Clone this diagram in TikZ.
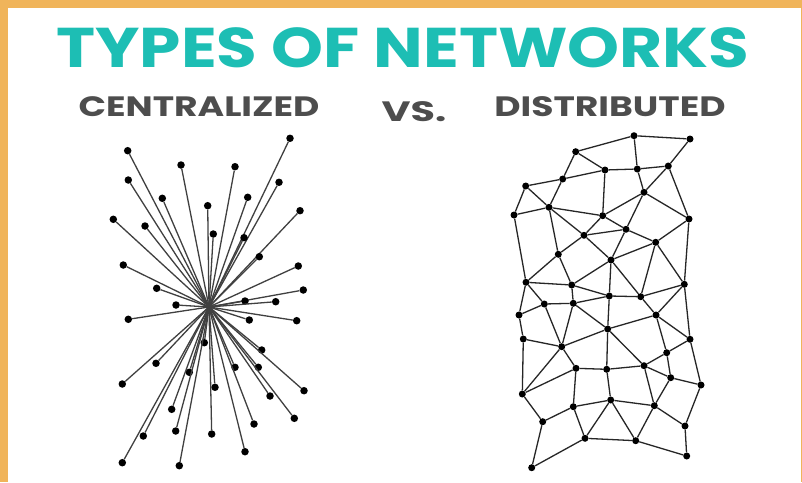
\documentclass[tikz,border=0pt]{standalone}
\usepackage{fontspec}
\setmainfont{Poppins}
\definecolor{frameorange}{RGB}{240,180,90}
\definecolor{titleteal}{RGB}{29,190,180}
\definecolor{subgray}{RGB}{77,77,77}

\begin{document}
\begin{tikzpicture}[x=1pt,y=-1pt,
    dot/.style={circle,fill=black,inner sep=0pt,minimum size=7.5pt},
    link/.style={line width=1.3pt,black!85},
    spoke/.style={line width=1.3pt,black!75},
    heading/.style={font=\bfseries\fontsize{28}{28}\selectfont,text=subgray,xscale=1.29}]
        % frame
        \fill[frameorange] (0,0) rectangle (802,482);
        \fill[white] (8,8) rectangle (801,482);
        \useasboundingbox (0,0) rectangle (802,482);

        \node[font=\bfseries\fontsize{56}{56}\selectfont,text=titleteal,xscale=1.18] (title) at (403,48) {TYPES OF NETWORKS};
        \node[heading] (central) at (199,107) {CENTRALIZED};
        \node[heading,xscale=1.1] (vs) at (414,112) {VS.};
        \node[heading] (distrib) at (610,107) {DISTRIBUTED};

        % centralized
        \coordinate (hub) at (209,307);
        \foreach \n/\x/\y in {1/127.7/150.7,2/290/138.3,3/181/165,4/235/166.7,5/128.3/180,
            6/279/182.3,7/162.3/198.3,8/247.7/197.3,9/207.7/205.7,10/113.3/219.3,
            11/145/226,12/300/210.7,13/213.3/234,14/244/237.7,15/123.3/265,
            16/259.3/256.7,17/298.3/266,18/156.7/288.3,19/303.3/290,20/176/305,
            21/245/301,22/275.7/301.7,23/128.3/319.3,24/249.3/320,25/296.7/320.7,
            26/204.3/342.7,27/261.7/350,28/156/363.3,29/189.3/372.3,30/235/367.3,
            31/258.3/367.3,32/122.3/384,33/215/387.3,34/304/390.7,35/270/396,
            36/171.7/409.3,37/294.3/418.3,38/254/424,39/175.7/431,40/143.3/436,
            41/211.7/434,42/245/451.7,43/122.3/462.7,44/179.3/465.7} {
          \node[dot] (c\n) at (\x,\y) {};
          \draw[spoke] (hub) -- (c\n);
        }

        % distributed
        \foreach \n/\x/\y in {1/634/135.7,2/690/139,3/575.7/151.7,4/605/170,5/637.3/169,
            6/668.3/166,7/562.7/179,8/525.7/186,9/644/192.3,10/549/207.3,
            11/514/215,12/602.7/215.7,13/689/219,14/626/229.3,15/584/235.3,
            16/655.7/242.3,17/558.3/254.3,18/611/260,19/526/282.3,20/571.7/285,
            21/684.3/284.3,22/609.3/296,23/640.7/296.7,24/544.3/304,25/573.3/303.3,
            26/519/315,27/656/315,28/607.7/329,29/523.3/339,30/690/339.3,
            31/561.7/346.7,32/666.7/352.7,33/576/368.3,34/606.7/369.3,35/644/365.7,
            36/670.7/377.7,37/701/385,38/522.3/394,39/610.7/400,40/573.3/406.7,
            41/654.3/405.7,42/542.7/421.7,43/685/426,44/585/438.3,45/635.7/440.7,
            46/686.7/456,47/531.7/467.7} {
          \node[dot,minimum size=7pt] (d\n) at (\x,\y) {};
        }
        \foreach \a/\b in {1/2,1/3,1/5,2/6,3/4,3/7,4/5,5/6,7/4,8/7,7/10,8/10,8/11,11/10,
            4/12,5/9,6/9,6/13,9/12,9/13,9/14,10/12,10/15,10/17,12/15,12/14,15/14,
            13/16,13/21,15/18,15/17,14/18,14/16,16/18,16/23,16/21,11/19,17/19,17/20,
            18/20,18/22,18/23,19/20,19/24,19/26,20/22,20/25,22/23,21/23,21/27,21/30,
            24/25,24/26,24/31,25/22,25/31,25/28,22/28,23/27,27/28,27/30,27/32,26/29,
            29/31,29/38,31/28,31/38,31/33,28/34,28/35,30/32,30/37,32/35,32/36,33/34,
            34/35,33/38,33/40,35/36,35/41,36/37,36/41,37/43,38/42,40/42,40/39,39/41,
            40/44,39/44,39/45,41/45,41/43,44/45,42/47,44/47,45/46,43/46,34/39} {
          \draw[link] (d\a) -- (d\b);
        }
      \end{tikzpicture}
\end{document}
